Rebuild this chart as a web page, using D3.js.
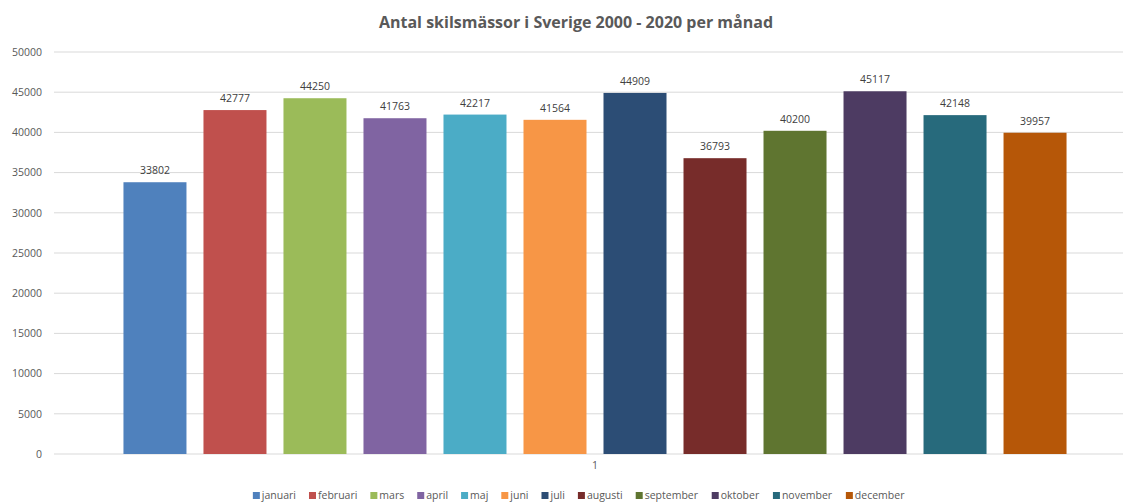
<!DOCTYPE html>
<html><head><meta charset="utf-8">
<script src="https://cdn.jsdelivr.net/npm/d3@7/dist/d3.min.js"></script>
<style>body{margin:0;background:#fff}svg{display:block}text{font-family:"Open Sans","Liberation Sans",sans-serif}</style>
</head><body><svg id="c" width="1123" height="502"></svg>
<script>
const months = ["januari","februari","mars","april","maj","juni","juli","augusti","september","oktober","november","december"];
const values = [33802,42777,44250,41763,42217,41564,44909,36793,40200,45117,42148,39957];
const colors = ["#4F81BD","#C0504D","#9BBB59","#8064A2","#4BACC6","#F79646","#2C4D75","#772C2A","#5F7530","#4D3B62","#276A7C","#B65708"];
const yTicks = [0,5000,10000,15000,20000,25000,30000,35000,40000,45000,50000];
const groups = ["1"];
const title = "Antal skilsmässor i Sverige 2000 - 2020 per månad";

const svg = d3.select("#c");
const x0 = d3.scaleBand().domain(groups).range([54,1136]).paddingInner(0).paddingOuter(0.0635);
const x1 = d3.scaleBand().domain(months).range([0,x0.bandwidth()]).paddingInner(0.2125).paddingOuter(0.10625);
const y = d3.scaleLinear().domain([0,50000]).range([454,52]);
const color = d3.scaleOrdinal().domain(months).range(colors);

// gridlines
svg.append("g").selectAll("line").data(yTicks).join("line")
  .attr("x1",54).attr("x2",1123).attr("y1",d=>y(d)).attr("y2",d=>y(d))
  .attr("stroke","#d9d9d9").attr("stroke-width",1);

// y axis labels
const yAxis = d3.axisLeft(y).tickValues(yTicks).tickSize(0).tickPadding(0).tickFormat(d3.format("d"));
const ya = svg.append("g").attr("transform","translate(42,0)").call(yAxis);
ya.select(".domain").remove();
ya.selectAll("text").attr("fill","#595959").style("font-size","10.5px");

// bars
const g = svg.append("g").attr("transform",`translate(${x0("1")},0)`);
const data = months.map((m,i)=>({m, v: values[i]}));
g.selectAll("rect").data(data).join("rect")
  .attr("x",d=>x1(d.m)).attr("width",x1.bandwidth())
  .attr("y",d=>y(d.v)).attr("height",d=>y(0)-y(d.v))
  .attr("fill",d=>color(d.m));
g.selectAll("text.v").data(data).join("text").attr("class","v")
  .attr("x",d=>x1(d.m)+x1.bandwidth()/2).attr("y",d=>y(d.v)-8)
  .attr("text-anchor","middle").attr("fill","#404040").style("font-size","10.5px")
  .text(d=>d.v);

// x axis category
const xAxis = d3.axisBottom(x0).tickSize(0).tickPadding(0);
const xa = svg.append("g").attr("transform","translate(0,462)").call(xAxis);
xa.select(".domain").remove();
xa.selectAll("text").attr("fill","#595959").style("font-size","10.5px").attr("dy","0.71em");

// title
svg.append("text").attr("x",576).attr("y",28).attr("text-anchor","middle")
  .attr("fill","#595959").style("font-size","16px").style("font-weight","bold").text(title);

// legend
const lg = svg.append("g");
const items = lg.selectAll("g").data(months).join("g");
items.append("rect").attr("width",7).attr("height",7).attr("y",-7).attr("fill",d=>color(d));
items.append("text").attr("x",9).attr("y",0).attr("fill","#595959").style("font-size","10.5px").text(d=>d);
items.each(function(){ const w = this.getBBox().width; d3.select(this).attr("data-w",w); });
const widths = items.nodes().map(n=>+n.getAttribute("data-w"));
const gap = 13;
const total = d3.sum(widths) + gap*(widths.length-1);
let cx = 579 - total/2;
items.attr("transform",(d,i)=>{ const t = `translate(${cx},499)`; cx += widths[i]+gap; return t; });
</script></body></html>
